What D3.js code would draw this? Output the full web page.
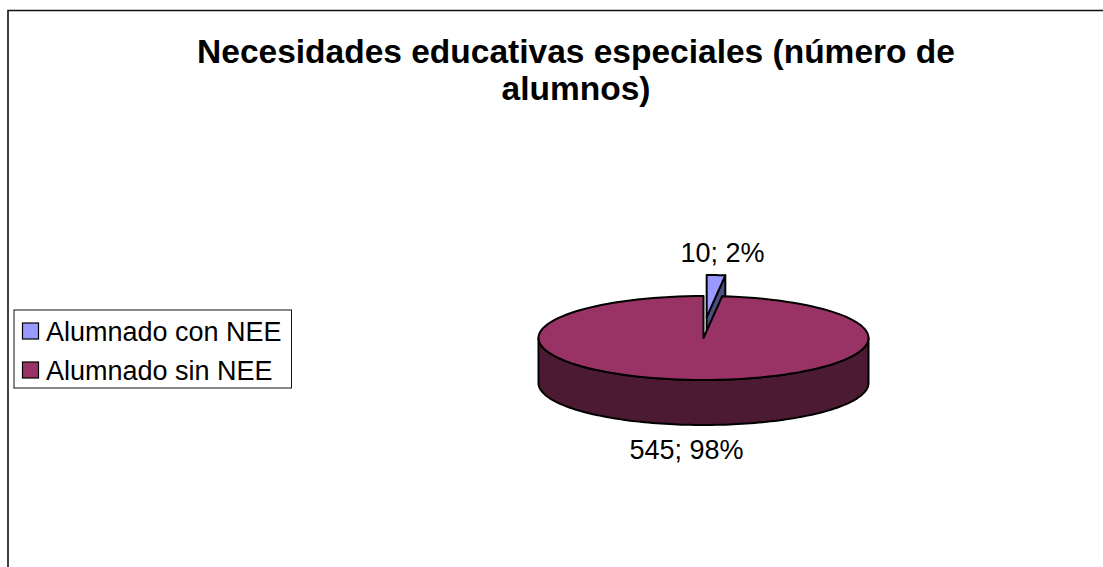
<!DOCTYPE html>
<html><head><meta charset="utf-8">
<script src="https://cdnjs.cloudflare.com/ajax/libs/d3/7.9.0/d3.min.js"></script>
<style>html,body{margin:0;padding:0;background:#fff;overflow:hidden}svg{display:block}text{font-family:"Liberation Sans",Arial,sans-serif;fill:#000}</style>
</head><body><svg id="c" width="1103" height="567"></svg>
<script>
const categories=["Alumnado con NEE","Alumnado sin NEE"];
const values=[10,545];
const percents=["2%","98%"];
const titleLines=["Necesidades educativas especiales (número de","alumnos)"];
const colors=["#9999FF","#993366"];
const darkColors=["#4D4D80","#4D1A33"];

const svg=d3.select("#c");
svg.append("path").attr("d","M8,567V10.5H1103").attr("fill","none").attr("stroke","#111").attr("stroke-width",1.6);

svg.selectAll("text.t").data(titleLines).join("text").attr("class","t")
 .attr("x",576).attr("y",(d,i)=>63+i*37).attr("text-anchor","middle")
 .attr("font-size",33.5).attr("font-weight","bold").text(d=>d);

// legend
const lg=svg.append("g");
lg.append("rect").attr("x",14).attr("y",310).attr("width",277.5).attr("height",78).attr("fill","#fff").attr("stroke","#111").attr("stroke-width",1);
const ly=d3.scalePoint().domain(categories).range([331,370]);
categories.forEach((c,i)=>{
 lg.append("rect").attr("x",22.5).attr("y",ly(c)-8).attr("width",16).attr("height",16).attr("fill",colors[i]).attr("stroke","#000").attr("stroke-width",1.2);
 lg.append("text").attr("x",46).attr("y",ly(c)+9.5).attr("font-size",27).text(c);
});

// pseudo-3D pie
const cx=703.5,cy=338,rx=165,ry=42,depth=45,explode=0.5;
const arcs=d3.pie().sort(null).value(d=>d)(values);
const px=a=>rx*Math.sin(a),py=a=>-ry*Math.cos(a);
const line=d3.line();
const arcPts=(a0,a1)=>d3.range(0,121).map(i=>{const a=a0+(a1-a0)*i/120;return [cx+px(a),cy+py(a)];});
const stroke=g=>g.attr("stroke","#000").attr("stroke-width",2).attr("stroke-linejoin","round");

// exploded small slice
{
 const s=arcs[0],mid=(s.startAngle+s.endAngle)/2;
 const dx=px(mid)*explode-1.5,dy=py(mid)*explode;
 const pts=arcPts(s.startAngle,s.endAngle).map(p=>[p[0]+dx,p[1]+dy]);
 const apex=[cx+dx,cy+dy],end=pts[pts.length-1];
 svg.append("path").attr("d",line([apex,end,[end[0],end[1]+depth],[apex[0],apex[1]+depth]])+"Z").attr("fill",darkColors[0]).call(stroke);
 svg.append("path").attr("d",line([apex,...pts])+"Z").attr("fill",colors[0]).call(stroke);
}
// big slice: side wall then top
{
 const s=arcs[1];
 const front=arcPts(Math.PI/2,3*Math.PI/2);
 const wall=[...front,...front.slice().reverse().map(p=>[p[0],p[1]+depth])];
 svg.append("path").attr("d",line(wall)+"Z").attr("fill",darkColors[1]).call(stroke);
 svg.append("path").attr("d",line([[cx,cy],...arcPts(s.startAngle,s.endAngle)])+"Z").attr("fill",colors[1]).call(stroke);
}
const labelPos=[[722.5,262],[686.5,459]];
arcs.forEach((s,i)=>{
 svg.append("text").attr("x",labelPos[i][0]).attr("y",labelPos[i][1]).attr("text-anchor","middle").attr("font-size",27).text(values[i]+"; "+percents[i]);
});
</script></body></html>
